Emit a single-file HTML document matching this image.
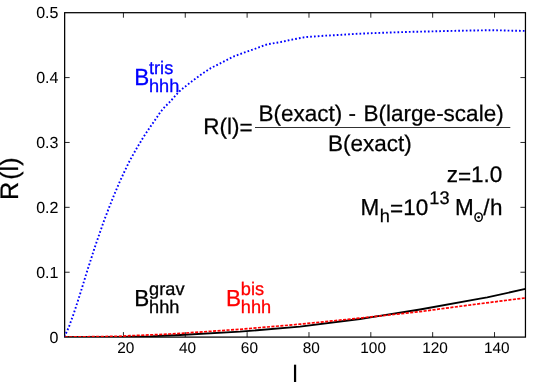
<!DOCTYPE html>
<html><head><meta charset="utf-8">
<style>
html,body{margin:0;padding:0;background:#fff;}
body{width:545px;height:382px;overflow:hidden;}
text{fill:currentColor;stroke:currentColor;stroke-width:.25px;}
text.s{stroke-width:.3px;}
.t text{stroke-width:.05px;}
text.n{stroke:none;}
svg{display:block;color:#000;font-family:"Liberation Sans",sans-serif;will-change:transform;text-rendering:geometricPrecision;}
</style></head><body>
<svg width="545" height="382" viewBox="0 0 545 382">
<rect width="545" height="382" fill="#fff"/>
<g stroke="#000" fill="none">
<rect x="64.65" y="12.7" width="460.80" height="324.40" stroke-width="1.25"/>
<path d="M123.41,337.1V332.1M123.41,12.7V17.7M185.26,337.1V332.1M185.26,12.7V17.7M247.11,337.1V332.1M247.11,12.7V17.7M308.97,337.1V332.1M308.97,12.7V17.7M370.82,337.1V332.1M370.82,12.7V17.7M432.67,337.1V332.1M432.67,12.7V17.7M494.52,337.1V332.1M494.52,12.7V17.7M64.65,272.22H69.65M525.45,272.22H520.45M64.65,207.34H69.65M525.45,207.34H520.45M64.65,142.46H69.65M525.45,142.46H520.45M64.65,77.58H69.65M525.45,77.58H520.45" stroke-width="0.85"/>
</g>
<clipPath id="cp"><rect x="64.65" y="12.7" width="460.80" height="324.40"/></clipPath>
<g fill="none" clip-path="url(#cp)">
<path stroke="#0000ff" stroke-width="1.9" stroke-dasharray="1.7 2.1" d="M64.7,337.1 L65.5,334.5 L68.8,327.2 L73.9,313.1 L78.7,298.4 L82,287.9 L86.4,273.4 L91.1,258.9 L94.5,248.1 L99.5,233.7 L104.5,219.4 L108.6,208.8 L114.1,194.9 L120.05,181 L124.9,170.6 L129.9,160.4 L135.6,150.2 L137.5,146.9 L141.4,140.5 L143,137.7 L149.4,128.1 L155.9,118.8 L160.4,112 L165,106.7 L170.3,101.4 L178,92.8 L179.3,91.5 L180.8,90.1 L192.3,81 L201.65,74.1 L204.45,72.2 L211,68 L221.5,62.7 L231.9,57.35 L234,56.3 L245.7,52.1 L256.1,48.4 L259.45,47.1 L267.1,44.4 L274.6,43.1 L282,41.8 L289.5,40.1 L296.8,38.7 L304.3,37.3 L307,37 L311.65,36.6 L326.5,35.6 L341.9,34.8 L357.3,33.8 L368.9,33.3 L379.9,32.9 L394.7,32.35 L410.1,31.85 L425,31.55 L436.5,31.25 L451.9,30.9 L467.3,30.6 L478.9,30.4 L489.3,30.2 L500.9,30.4 L512.4,30.7 L525.4,30.9"/>
<path stroke="#000" stroke-width="1.8" d="M64.7,337.1 L123,336.8 L150,336.3 L180,335 L240,331.7 L300,326.6 L360,319 L375,316.6 L420,309.5 L480,298.7 L487.2,297.4 L525.4,288.9"/>
<path stroke="#ff0000" stroke-width="1.7" stroke-dasharray="3.1 1.4" d="M64.7,337.1 L123,336.2 L130,335.7 L150,334.9 L170,334 L180,333.4 L240,329.3 L300,324.2 L360,318.1 L420,311.6 L480,303.7 L525.4,297.9"/>
</g>
<g font-size="16" class="t">
<text x="125.71" y="353" font-size="15.4" text-anchor="middle">20</text>
<text x="187.56" y="353" font-size="15.4" text-anchor="middle">40</text>
<text x="249.41" y="353" font-size="15.4" text-anchor="middle">60</text>
<text x="311.27" y="353" font-size="15.4" text-anchor="middle">80</text>
<text x="373.12" y="353" font-size="15.4" text-anchor="middle">100</text>
<text x="434.97" y="353" font-size="15.4" text-anchor="middle">120</text>
<text x="496.82" y="353" font-size="15.4" text-anchor="middle">140</text>
<text x="58.4" y="342.60" text-anchor="end">0</text>
<text x="58.4" y="277.72" text-anchor="end">0.1</text>
<text x="58.4" y="212.84" text-anchor="end">0.2</text>
<text x="58.4" y="147.96" text-anchor="end">0.3</text>
<text x="58.4" y="83.08" text-anchor="end">0.4</text>
<text x="58.4" y="18.20" text-anchor="end">0.5</text>
</g>
<g style="color:#0000ff"><text transform="translate(134.3,84.9) scale(1,1.04)" font-size="22.5">B</text><text transform="translate(149.0,74.0) scale(1,1.0)" font-size="18.2" class="s">tris</text><text transform="translate(149.0,91.80000000000001) scale(1,1.0)" font-size="18.2" class="s">hhh</text></g>
<g style="color:#000"><text transform="translate(134.3,305.7) scale(1,1.03)" font-size="22.5">B</text><text transform="translate(149.10000000000002,294.75) scale(1,1.0)" font-size="18.2" class="s">grav</text><text transform="translate(149.10000000000002,312.8) scale(1,1.0)" font-size="18.2" class="s">hhh</text></g>
<g style="color:#ff0000"><text transform="translate(226.1,305.7) scale(1,1.03)" font-size="22.5">B</text><text transform="translate(240.79999999999998,294.75) scale(1,1.0)" font-size="18.2" class="s">bis</text><text transform="translate(240.79999999999998,312.8) scale(1,1.0)" font-size="18.2" class="s">hhh</text></g>
<text x="203.3" y="133.9" font-size="22.5">R(l)</text>
<text x="239.53" y="135.15" font-size="22.5">=</text>
<text x="258.5" y="121.2" font-size="22.5">B(exact) -</text>
<text x="363.6" y="121.2" font-size="22.5">B(large-scale)</text>
<text x="328" y="150.8" font-size="22.5">B(exact)</text>
<path d="M255,127.5H510.3" stroke="#1a1a1a" stroke-width="0.9"/>
<text x="502.3" y="182.3" font-size="22.5" text-anchor="end">1.0</text>
<text x="471.03" y="183.55" font-size="22.5" text-anchor="end">=</text>
<text x="457.88" y="182.3" font-size="22.5" text-anchor="end">z</text>
<text transform="translate(360.5,215.2) scale(1,1.03)" font-size="22.5">M</text>
<text x="379.7" y="221.7" font-size="18.2">h</text>
<text x="390" y="216.45" font-size="22.5">=</text>
<text x="403.14" y="215.2" font-size="22.5">10</text>
<text x="429.3" y="203.6" font-size="18.2">13</text>
<text transform="translate(454.9,215.2) scale(1,1.03)" font-size="22.5">M</text>
<ellipse cx="478.6" cy="217.1" rx="3.65" ry="4.25" fill="none" stroke="#000" stroke-width="1.45"/><circle cx="478.6" cy="217.3" r="1.25" fill="#000"/>
<text x="483.2" y="215.2" font-size="22.5">/</text><text x="489.9" y="215.2" font-size="22.5">h</text>
<text transform="translate(17.8,200) rotate(-90)" font-size="25.3">R</text>
<text transform="translate(17.8,179.8) rotate(-90)" font-size="25.3">(l)</text>
<text x="292.2" y="382.6" font-size="25.3" class="n">l</text>
</svg>
</body></html>
